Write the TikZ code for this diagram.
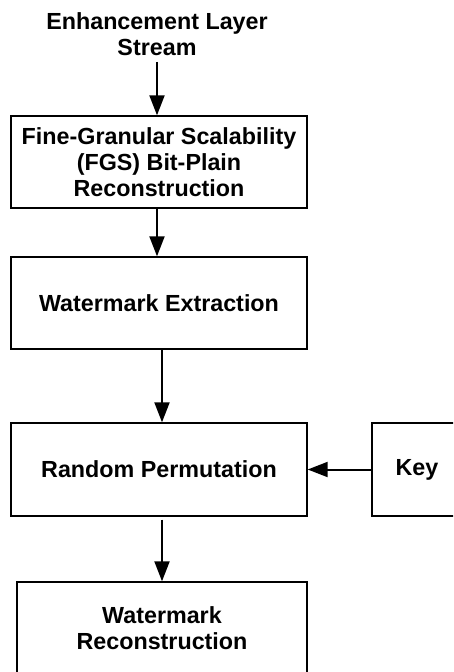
\documentclass[tikz,border=0pt]{standalone}
\usepackage{fontspec}
\setmainfont{Liberation Sans}
\usepackage{tikz}
\usetikzlibrary{arrows.meta,positioning}

\begin{document}
\begin{tikzpicture}[x=1pt, y=-1pt, >={Triangle[length=20pt,width=15pt]},
    block/.style={draw, line width=1.4pt, minimum width=296pt, minimum height=92pt,
        align=center, inner sep=0pt},
    flow/.style={->, line width=2pt},
    every node/.style={font=\fontsize{23.3}{26}\selectfont\bfseries}]
    \useasboundingbox (0,0) rectangle (453,672);
    \clip (0,0) rectangle (453,672);

    % Input stream
    \node[align=center, inner sep=0pt] (stream) at (157,34) {Enhancement Layer\\Stream};

    % Blocks
    \node[block] (fgs) at (159,162) {Fine-Granular Scalability\\(FGS) Bit-Plain\\Reconstruction};
    \node[block] (extract) at (159,303) {Watermark Extraction};
    \node[block, minimum height=93pt] (perm) at (159,469.5) {Random Permutation};
    \node[block, minimum width=90pt, minimum height=93pt] (key) at (417,469.5) {Key};
    \node[block, minimum width=290pt] (recon) at (162,628) {Watermark\\Reconstruction};

    % Arrows
    \draw[flow, shorten <=6pt] (stream.south) -- (stream.south |- fgs.north);
    \draw[flow] (fgs.south -| stream.south) -- (extract.north -| stream.south);
    \draw[flow] (extract.south -| recon.north) -- (perm.north -| recon.north);
    \draw[flow] (key.west) -- (perm.east);
    \draw[flow, shorten <=3pt] (perm.south -| recon.north) -- (recon.north);
\end{tikzpicture}
\end{document}
